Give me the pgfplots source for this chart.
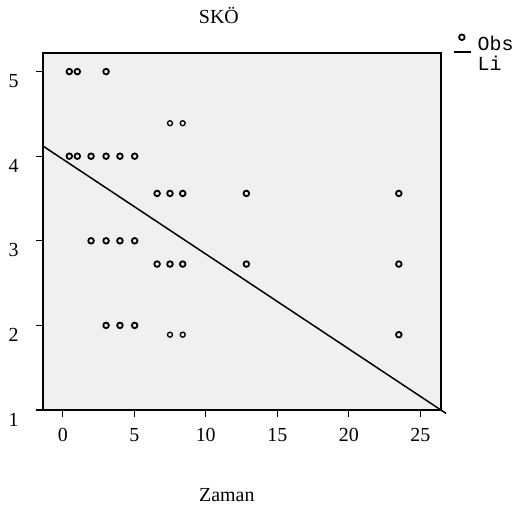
\documentclass[border=0pt]{standalone}
\usepackage{fontspec}
\setmainfont{Liberation Serif}
\setmonofont{Liberation Mono}
\usepackage{pgfplots}
\pgfplotsset{compat=1.18}
\definecolor{panel}{RGB}{240,240,240}
\begin{document}
\begin{tikzpicture}
\useasboundingbox (-43bp,-122bp) rectangle (474bp,410bp);
\begin{axis}[
  scale only axis, width=398bp, height=357bp,
  xmin=-1.38, xmax=26.45, ymin=1, ymax=5.22,
  clip=false,
  axis background/.style={fill=panel},
  axis line style={line width=1.3bp},
  xtick={0,5,10,15,20,25}, ytick={1,2,3,4,5},
  tick style={black, line width=1.3bp},
  major tick length=7bp,
  tick align=outside,
  xtick pos=bottom, ytick pos=left,
  ticklabel style={font=\fontsize{20}{24}\selectfont},
  /pgf/number format/assume math mode=true,
  yticklabel style={yshift=-9.5bp, xshift=-14bp},
  xticklabel style={yshift=-8bp},
  title={SKÖ},
  title style={font=\fontsize{20}{24}\selectfont, at={(rel axis cs:0.442,1.087)}, anchor=center},
  xlabel={Zaman},
  xlabel style={font=\fontsize{20}{24}\selectfont, at={(rel axis cs:0.462,-0.238)}, anchor=center},
  legend style={draw=none, fill=none, inner sep=0pt, at={(rel axis cs:1.03,1.055)}, anchor=north west,
    font=\ttfamily\fontsize{20}{20}\selectfont, row sep=-3bp,
    /tikz/every odd column/.style={column sep=4bp}},
  legend cell align=left,
]
% observed values
\addplot[only marks, mark=o, mark size=2.8bp, mark options={line width=1.8bp},
  legend image code/.code={\draw[line width=1.8bp] (8bp,7bp) circle (2.8bp);}] coordinates {
  (0.46,5) (1.02,5) (3.03,5)
  (0.46,4) (1.02,4) (1.98,4) (3.03,4) (4.0,4) (5.03,4)
  (6.6,3.56) (7.5,3.56) (8.39,3.56) (12.84,3.56) (23.5,3.56)
  (1.98,3) (3.03,3) (4.0,3) (5.03,3)
  (6.6,2.725) (7.5,2.725) (8.39,2.725) (12.84,2.725) (23.5,2.725)
  (3.03,2) (4.0,2) (5.03,2)
  (23.5,1.89)
};
\addlegendentry{Obs}
\addplot[only marks, mark=o, mark size=2.5bp, mark options={line width=1.3bp}, forget plot] coordinates {
  (7.5,4.39) (8.39,4.39)
  (7.5,1.89) (8.39,1.89)
};
% linear fit
\addplot[no marks, line width=1.5bp,
  legend image code/.code={\draw[line width=1.5bp] (0bp,12bp) -- (17bp,12bp);}] coordinates {
  (-1.38,4.12) (26.8,0.96)
};
\addlegendentry{Li}
\end{axis}
\end{tikzpicture}
\end{document}
